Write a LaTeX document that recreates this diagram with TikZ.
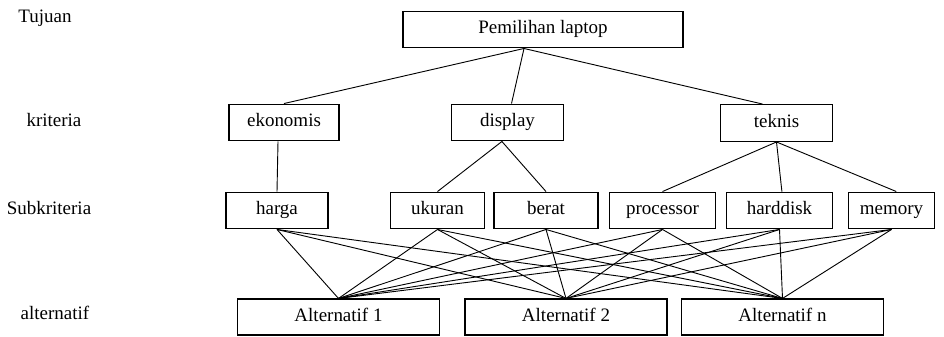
\documentclass[tikz,border=0pt]{standalone}
\usepackage{fontspec}
\setmainfont{Liberation Serif}
\usepackage{xcolor}

\begin{document}
\begin{tikzpicture}[
    x=0.025cm, y=-0.025cm,
    box/.style={draw, line width=0.8pt, minimum height=0.92cm, inner sep=0pt, text height=9pt, text depth=3pt, font=\fontsize{13.5}{16}\selectfont},
    lvl/.style={font=\fontsize{13.5}{16}\selectfont},
    ln/.style={line width=0.65pt}
]
\useasboundingbox (0,0) rectangle (944,336);
% level labels
\node[lvl] (lgoal) at (45,18) {Tujuan};
\node[lvl] (lcrit) at (54,120) {kriteria};
\node[lvl] (lsub) at (49,208) {Subkriteria};
\node[lvl] (lalt) at (55,313) {alternatif};
% goal
\node[box, minimum width=7cm] (goal) at (543,29.5) {Pemilihan laptop};
% criteria
\node[box, minimum width=2.75cm] (eko) at (284,122.5) {ekonomis};
\node[box, minimum width=2.78cm] (disp) at (507.5,122.5) {display};
\node[box, minimum width=2.78cm] (tek) at (776.5,123) {teknis};
% subcriteria
\node[box, minimum width=2.55cm] (harga) at (277,210.5) {harga};
\node[box, minimum width=2.33cm] (ukuran) at (437.5,210.5) {ukuran};
\node[box, minimum width=2.6cm] (berat) at (546,210.5) {berat};
\node[box, minimum width=2.63cm] (proc) at (662.5,210.5) {processor};
\node[box, minimum width=2.63cm] (hdd) at (779.5,210.5) {harddisk};
\node[box, minimum width=2.13cm] (mem) at (891.5,210.5) {memory};
% alternatives
\node[box, minimum width=5.03cm, minimum height=0.9cm] (alt1) at (338.5,317) {Alternatif 1};
\node[box, minimum width=5.05cm, minimum height=0.9cm] (alt2) at (566,317) {Alternatif 2};
\node[box, minimum width=5.03cm, minimum height=0.9cm] (altn) at (782.5,317) {Alternatif n};
% goal -> criteria
\draw[ln] ([xshift=-0.475cm]goal.south) -- (eko.north);
\draw[ln] ([xshift=-0.475cm]goal.south) -- ([xshift=0.1cm]disp.north);
\draw[ln] ([xshift=-0.475cm]goal.south) -- ([xshift=-0.35cm]tek.north);
% criteria -> subcriteria
\draw[ln] ([xshift=-0.15cm]eko.south) -- (harga.north);
\draw[ln] ([xshift=-0.14cm]disp.south) -- (ukuran.north);
\draw[ln] ([xshift=-0.14cm]disp.south) -- (berat.north);
\draw[ln] (tek.south) -- (proc.north);
\draw[ln] (tek.south) -- ([xshift=0.06cm]hdd.north);
\draw[ln] (tek.south) -- ([xshift=0.12cm]mem.north);
% subcriteria -> alternatives
\foreach \s in {harga,ukuran,berat,proc,hdd,mem}
  \foreach \a in {alt1,alt2,altn}
    \draw[ln] (\s.south) -- (\a.north);
\end{tikzpicture}
\end{document}
